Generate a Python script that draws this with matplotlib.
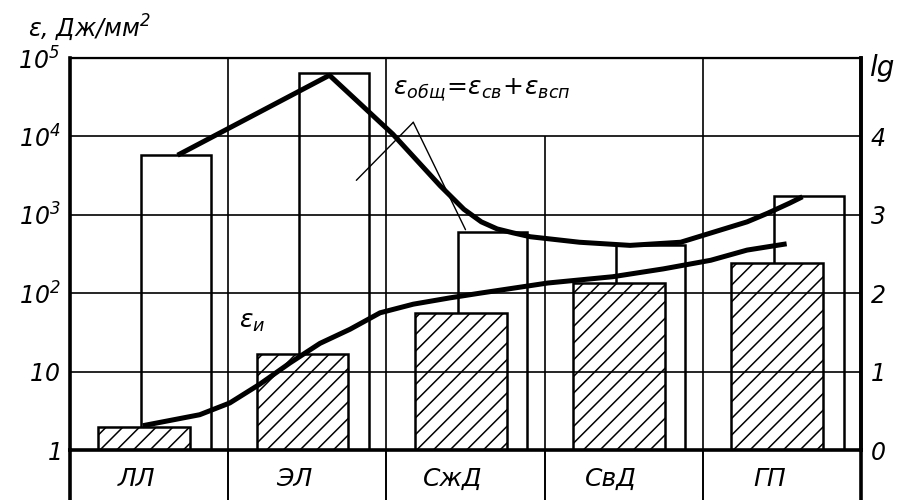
import numpy as np
import matplotlib
matplotlib.use('Agg')
import matplotlib.pyplot as plt
from matplotlib import font_manager

# pick a narrow face for the drawing-style lettering if there is one
installed = {f.name for f in font_manager.fontManager.ttflist}
face = 'Liberation Sans Narrow' if 'Liberation Sans Narrow' in installed else 'DejaVu Sans'
plt.rcParams['font.family'] = [face, 'DejaVu Sans']
plt.rcParams['font.style'] = 'italic'
# italic digits in math text too
plt.rcParams['mathtext.fontset'] = 'custom'
plt.rcParams['mathtext.rm'] = 'DejaVu Sans:italic'
plt.rcParams['mathtext.it'] = 'DejaVu Sans:italic'
plt.rcParams['mathtext.sf'] = 'DejaVu Sans:italic'
plt.rcParams['hatch.linewidth'] = 1.1

# specimen groups
materials = ["ЛЛ", "ЭЛ", "СжД", "СвД", "ГП"]

# total energy density e_obsh = e_sv + e_vsp, J/mm^2 (open bars)
e_total = [5.8e3, 6.4e4, 6.0e2, 4.1e2, 1.75e3]
# energy density e_i, J/mm^2 (hatched bars)
e_i = [1.95, 17.0, 56.0, 135.0, 240.0]

# trend curves: x in specimen columns, value as lg(e)
tot_curve_x = [0.68, 1.64, 2.04, 2.34, 2.49, 2.60, 2.70, 2.80, 2.91, 3.22, 3.54, 3.86, 4.07, 4.28, 4.41, 4.55, 4.63]
tot_curve_lg = [3.76, 4.78, 4.03, 3.37, 3.07, 2.91, 2.82, 2.77, 2.72, 2.65, 2.61, 2.65, 2.78, 2.91, 3.02, 3.15, 3.23]
i_curve_x = [0.46, 0.82, 1.01, 1.20, 1.39, 1.58, 1.77, 1.96, 2.17, 2.40, 2.59, 3.02, 3.43, 3.75, 4.05, 4.28, 4.53]
i_curve_lg = [0.31, 0.45, 0.60, 0.84, 1.11, 1.36, 1.54, 1.75, 1.86, 1.94, 2.00, 2.13, 2.21, 2.31, 2.42, 2.55, 2.63]

y_ticks = [1, 10, 1e2, 1e3, 1e4, 1e5]
y_tick_labels = ["$1$", "$10$", "$10^2$", "$10^3$", "$10^4$", "$10^5$"]
lg_ticks = [0, 1, 2, 3, 4]

fig = plt.figure(figsize=(9.04, 5.0), dpi=100)
ax = fig.add_axes([70 / 904, 50 / 500, 791 / 904, 392 / 500])
cat_ax = fig.add_axes([70 / 904, 0, 791 / 904, 50 / 500])

idx = np.arange(len(materials))

# open bars for the total, hatched bars for e_i on top of them
ax.bar(idx + 0.67, np.array(e_total) - 1, width=0.44, bottom=1,
       facecolor='none', edgecolor='black', linewidth=1.8, zorder=1)
ax.bar(idx + 0.47, np.array(e_i) - 1, width=0.58, bottom=1,
       facecolor='white', edgecolor='black', linewidth=1.8, hatch='//', zorder=2)

# grid of the drawing
for y in y_ticks[1:-1]:
    ax.axhline(y, color='black', linewidth=1.2, zorder=3)
for x in [1, 2, 4]:
    ax.axvline(x, color='black', linewidth=1.2, zorder=3)
ax.vlines(3, 1, 1e4, color='black', linewidth=1.2, zorder=3)

ax.plot(tot_curve_x, 10 ** np.array(tot_curve_lg), color='black', linewidth=3.6,
        solid_joinstyle='round', solid_capstyle='butt', zorder=5)
ax.plot(i_curve_x, 10 ** np.array(i_curve_lg), color='black', linewidth=3.6,
        solid_joinstyle='round', solid_capstyle='butt', zorder=5)

ax.set_xlim(0, 5)
ax.set_yscale('log')
ax.set_ylim(1, 1e5)
ax.set_xticks([])
ax.set_yticks(y_ticks)
ax.set_yticklabels(y_tick_labels, fontsize=17)
ax.yaxis.set_minor_locator(matplotlib.ticker.NullLocator())
ax.tick_params(axis='y', length=0, pad=7)
ax.spines['left'].set_linewidth(2.6)
ax.spines['bottom'].set_linewidth(2.6)
ax.spines['top'].set_linewidth(1.6)
ax.spines['right'].set_linewidth(2.6)

ax2 = ax.twinx()
ax2.set_ylim(0, 5)
ax2.set_yticks(lg_ticks)
ax2.set_yticklabels([str(t) for t in lg_ticks], fontsize=17)
ax2.tick_params(axis='y', length=0, pad=7)
ax2.spines['right'].set_linewidth(2.6)
ax2.annotate('lg', xy=(1, 5), xycoords=('axes fraction', 'data'), xytext=(6, -7),
             textcoords='offset points', fontsize=20, va='center', ha='left',
             annotation_clip=False)

# labels of the two curves with their leader lines
for tip in [(1.81, 10 ** 3.44), (2.50, 10 ** 2.81)]:
    ax.annotate('', xy=tip, xytext=(2.17, 10 ** 4.18),
                arrowprops=dict(arrowstyle='-', color='black', linewidth=1.0,
                                shrinkA=0, shrinkB=0), zorder=4)
ax.text(2.04, 10 ** 4.6, r'$\varepsilon_{общ}\!=\!\varepsilon_{св}\!+\!\varepsilon_{всп}$',
        fontsize=18, ha='left', va='center', zorder=6)
ax.text(1.07, 10 ** 1.63, r'$\varepsilon_{и}$', fontsize=18, ha='left', va='center', zorder=6)

fig.text(28 / 904, 1 - 28 / 500, r'$\varepsilon$, Дж/мм$^2$', fontsize=17, ha='left', va='center')

# row with the specimen names under the plot
cat_ax.set_xlim(0, 5)
cat_ax.set_ylim(0, 1)
cat_ax.set_xticks([])
cat_ax.set_yticks([])
cat_ax.patch.set_alpha(0)
cat_ax.spines['top'].set_visible(False)
cat_ax.spines['bottom'].set_visible(False)
cat_ax.spines['left'].set_linewidth(2.6)
cat_ax.spines['right'].set_linewidth(2.6)
cat_ax.vlines([1, 2, 3, 4], 0, 1, color='black', linewidth=1.4)
for i, name in enumerate(materials):
    cat_ax.text(i + 0.42, 0.42, name, fontsize=18, ha='center', va='center')

fig.savefig('out.png', dpi=100)
